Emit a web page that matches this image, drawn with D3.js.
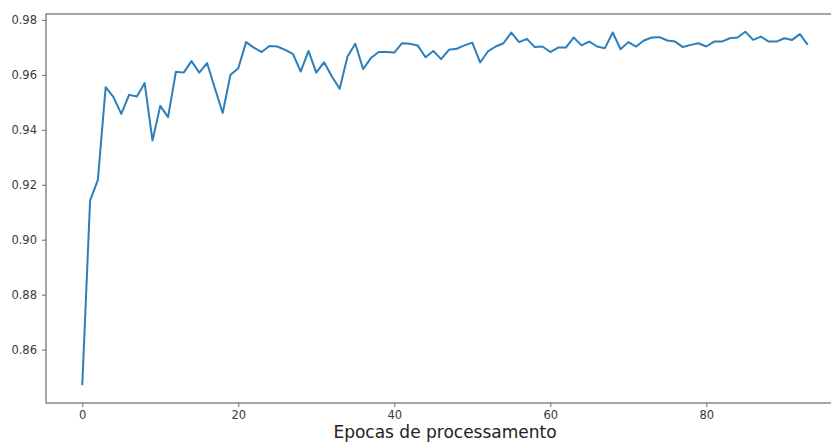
<!DOCTYPE html>
<html>
<head>
<meta charset="utf-8">
<script src="https://cdnjs.cloudflare.com/ajax/libs/d3/7.8.5/d3.min.js"></script>
<style>
  body { margin: 0; background: #fff; }
  svg { display: block; }
  .tick text { font-family: "DejaVu Sans", sans-serif; font-size: 11.5px; fill: #3a3a3a; }
  .tick line { stroke: #666; }
  .xlabel { font-family: "DejaVu Sans", sans-serif; font-size: 17px; fill: #222; }
</style>
</head>
<body>
<script>
// accuracy per epoch
var accuracy = [
  0.8470, 0.9142, 0.9218, 0.9555, 0.9519, 0.9458, 0.9527, 0.9521, 0.9570, 0.9361,
  0.9487, 0.9446, 0.9611, 0.9608, 0.9650, 0.9608, 0.9643, 0.9551, 0.9461, 0.9600,
  0.9624, 0.9719, 0.9699, 0.9683, 0.9705, 0.9703, 0.9691, 0.9676, 0.9612, 0.9687,
  0.9608, 0.9646, 0.9594, 0.9549, 0.9667, 0.9713, 0.9621, 0.9661, 0.9683, 0.9683,
  0.9681, 0.9715, 0.9713, 0.9707, 0.9664, 0.9687, 0.9657, 0.9691, 0.9695, 0.9707,
  0.9717, 0.9645, 0.9685, 0.9703, 0.9715, 0.9754, 0.9719, 0.9731, 0.9701, 0.9703,
  0.9683, 0.9699, 0.9699, 0.9736, 0.9707, 0.9721, 0.9703, 0.9697, 0.9754, 0.9693,
  0.9719, 0.9703, 0.9725, 0.9736, 0.9737, 0.9725, 0.9721, 0.9701, 0.9709, 0.9715,
  0.9703, 0.9721, 0.9721, 0.9733, 0.9736, 0.9757, 0.9727, 0.9739, 0.9721, 0.9721,
  0.9733, 0.9727, 0.9748, 0.9709
];
var epochs = d3.range(accuracy.length);
var xTicks = [0, 20, 40, 60, 80];
var yTicks = [0.86, 0.88, 0.90, 0.92, 0.94, 0.96, 0.98];
var xTitle = "Epocas de processamento";

var width = 831,
    height = 443,
    plotL = 46, plotR = 844, plotT = 14, plotB = 403;

var svg = d3.select("body").append("svg")
    .attr("width", width)
    .attr("height", height);

// matplotlib-like 5% margins
var xmax = epochs.length - 1,
    ymin = d3.min(accuracy), ymax = d3.max(accuracy),
    xpad = xmax * 0.05, ypad = (ymax - ymin) * 0.05;

var x = d3.scaleLinear().domain([-xpad, xmax + xpad]).range([plotL, plotR]);
var y = d3.scaleLinear().domain([ymin - ypad, ymax + ypad]).range([plotB, plotT]);

svg.append("g")
    .attr("transform", "translate(0," + plotB + ")")
    .call(d3.axisBottom(x).tickValues(xTicks).tickFormat(d3.format("d")).tickSize(4).tickPadding(4))
    .call(function(g) { g.select(".domain").remove(); });

svg.append("g")
    .attr("transform", "translate(" + plotL + ",0)")
    .call(d3.axisLeft(y).tickValues(yTicks).tickFormat(d3.format(".2f")).tickSize(4).tickPadding(5))
    .call(function(g) { g.select(".domain").remove(); });

// frame
svg.append("rect")
    .attr("x", plotL).attr("y", plotT)
    .attr("width", plotR - plotL).attr("height", plotB - plotT)
    .attr("fill", "none")
    .attr("stroke", "#777")
    .attr("stroke-width", 1.3);

var line = d3.line()
    .x(function(d, i) { return x(epochs[i]); })
    .y(function(d) { return y(d); });

svg.append("path")
    .datum(accuracy)
    .attr("fill", "none")
    .attr("stroke", "#2b7fbd")
    .attr("stroke-width", 2)
    .attr("stroke-linejoin", "round")
    .attr("d", line);

svg.append("text")
    .attr("class", "xlabel")
    .attr("x", (plotL + plotR) / 2)
    .attr("y", 438)
    .attr("text-anchor", "middle")
    .text(xTitle);
</script>
</body>
</html>
